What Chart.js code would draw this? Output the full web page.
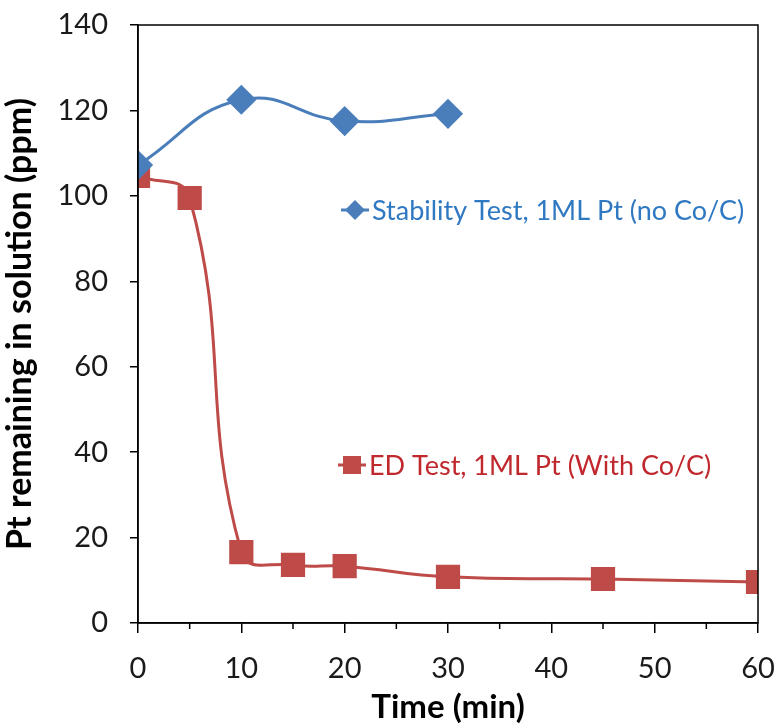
<!DOCTYPE html>
<html>
<head>
<meta charset="utf-8">
<script src="https://cdn.jsdelivr.net/npm/chart.js@4/dist/chart.umd.min.js"></script>
<style>
  html, body { margin: 0; padding: 0; background: #fff; }
  #wrap { width: 779px; height: 727px; }
</style>
</head>
<body>
<div id="wrap"><canvas id="graph"></canvas></div>
<script>
const stabilityTime = [0, 10, 20, 30];
const stabilityPt = [107.2, 122.5, 117.5, 119.2];
const edTime = [0, 5, 10, 15, 20, 30, 45, 60];
const edPt = [104.7, 99.5, 16.6, 13.6, 13.3, 10.8, 10.3, 9.6];
const yTicks = [0, 20, 40, 60, 80, 100, 120, 140];
const xTicks = [0, 10, 20, 30, 40, 50, 60];
const xMinorTicks = [5, 15, 25, 35, 45, 55];

const FONT = "Lato, 'Noto Sans', sans-serif";
const BLUE = "#4A7EBB";
const RED = "#BE4B48";

// frame, minor x ticks and the two in-plot labels
const extras = {
  id: "extras",
  afterDraw(chart) {
    const { ctx, chartArea: a, scales } = chart;
    ctx.save();
    ctx.strokeStyle = "#000";
    ctx.lineWidth = 1.5;
    ctx.strokeRect(a.left, a.top, a.right - a.left, a.bottom - a.top);
    ctx.beginPath();
    xMinorTicks.forEach(v => {
      const px = scales.x.getPixelForValue(v);
      ctx.moveTo(px, a.bottom);
      ctx.lineTo(px, a.bottom + 6);
    });
    ctx.stroke();

    const labels = [
      { text: "Stability Test, 1ML Pt (no Co/C)", x: 355, y: 210, color: "#2F78C2", fill: BLUE, shape: "diamond" },
      { text: "ED Test, 1ML Pt (With Co/C)", x: 352, y: 465, color: "#C0282D", fill: RED, shape: "square" },
    ];
    labels.forEach(l => {
      ctx.strokeStyle = l.fill;
      ctx.lineWidth = 3;
      ctx.beginPath();
      ctx.moveTo(l.x - 14, l.y);
      ctx.lineTo(l.x + 14, l.y);
      ctx.stroke();
      ctx.fillStyle = l.fill;
      ctx.beginPath();
      if (l.shape === "diamond") {
        ctx.moveTo(l.x, l.y - 10);
        ctx.lineTo(l.x + 10, l.y);
        ctx.lineTo(l.x, l.y + 10);
        ctx.lineTo(l.x - 10, l.y);
        ctx.closePath();
      } else {
        ctx.rect(l.x - 9, l.y - 9, 18, 18);
      }
      ctx.fill();
      ctx.fillStyle = l.color;
      ctx.font = "27px " + FONT;
      ctx.textBaseline = "middle";
      ctx.textAlign = "left";
      ctx.fillText(l.text, l.x + 17, l.y + 1);
    });
    ctx.restore();
  }
};

const toPoints = (xs, ys) => xs.map((x, i) => ({ x, y: ys[i] }));

new Chart(document.getElementById("graph"), {
  type: "line",
  data: {
    datasets: [
      {
        label: "Stability Test, 1ML Pt (no Co/C)",
        data: toPoints(stabilityTime, stabilityPt),
        borderColor: BLUE,
        backgroundColor: BLUE,
        borderWidth: 3,
        pointStyle: "rectRot",
        pointRadius: 13,
        pointHoverRadius: 13,
        tension: 0.45,
      },
      {
        label: "ED Test, 1ML Pt (With Co/C)",
        data: toPoints(edTime, edPt),
        borderColor: RED,
        backgroundColor: RED,
        borderWidth: 3,
        pointStyle: "rect",
        pointRadius: 15,
        pointHoverRadius: 15,
        tension: 0.45,
      },
    ],
  },
  options: {
    responsive: true,
    maintainAspectRatio: false,
    animation: false,
    layout: { padding: { left: 0, top: 25, right: 21, bottom: 0 } },
    plugins: { legend: { display: false }, tooltip: { enabled: false } },
    scales: {
      x: {
        type: "linear",
        min: 0,
        max: 60,
        afterBuildTicks: s => { s.ticks = xTicks.map(v => ({ value: v })); },
        afterFit: s => { s.height = 104; s.paddingLeft = 0; s.paddingRight = 0; },
        grid: { drawOnChartArea: false, drawTicks: true, tickLength: 10, color: "#000", lineWidth: 1.5 },
        border: { color: "#000", width: 1.5 },
        ticks: { color: "#1a1a1a", font: { family: FONT, size: 29 }, padding: 18, maxRotation: 0 },
        title: { display: true, text: "Time (min)", color: "#000", font: { family: FONT, size: 33, weight: "bold" }, padding: { top: 0, bottom: 0 } },
      },
      y: {
        min: 0,
        max: 140,
        afterBuildTicks: s => { s.ticks = yTicks.map(v => ({ value: v })); },
        afterFit: s => { s.width = 138; s.paddingTop = 0; s.paddingBottom = 0; },
        grid: { drawOnChartArea: false, drawTicks: true, tickLength: 8, color: "#000", lineWidth: 1.5 },
        border: { color: "#000", width: 1.5 },
        ticks: { color: "#1a1a1a", font: { family: FONT, size: 29 }, padding: 22 },
        title: { display: true, text: "Pt remaining in solution (ppm)", color: "#000", font: { family: FONT, size: 34, weight: "bold" }, padding: { top: 0, bottom: 4 } },
      },
    },
  },
  plugins: [extras],
});
</script>
</body>
</html>
